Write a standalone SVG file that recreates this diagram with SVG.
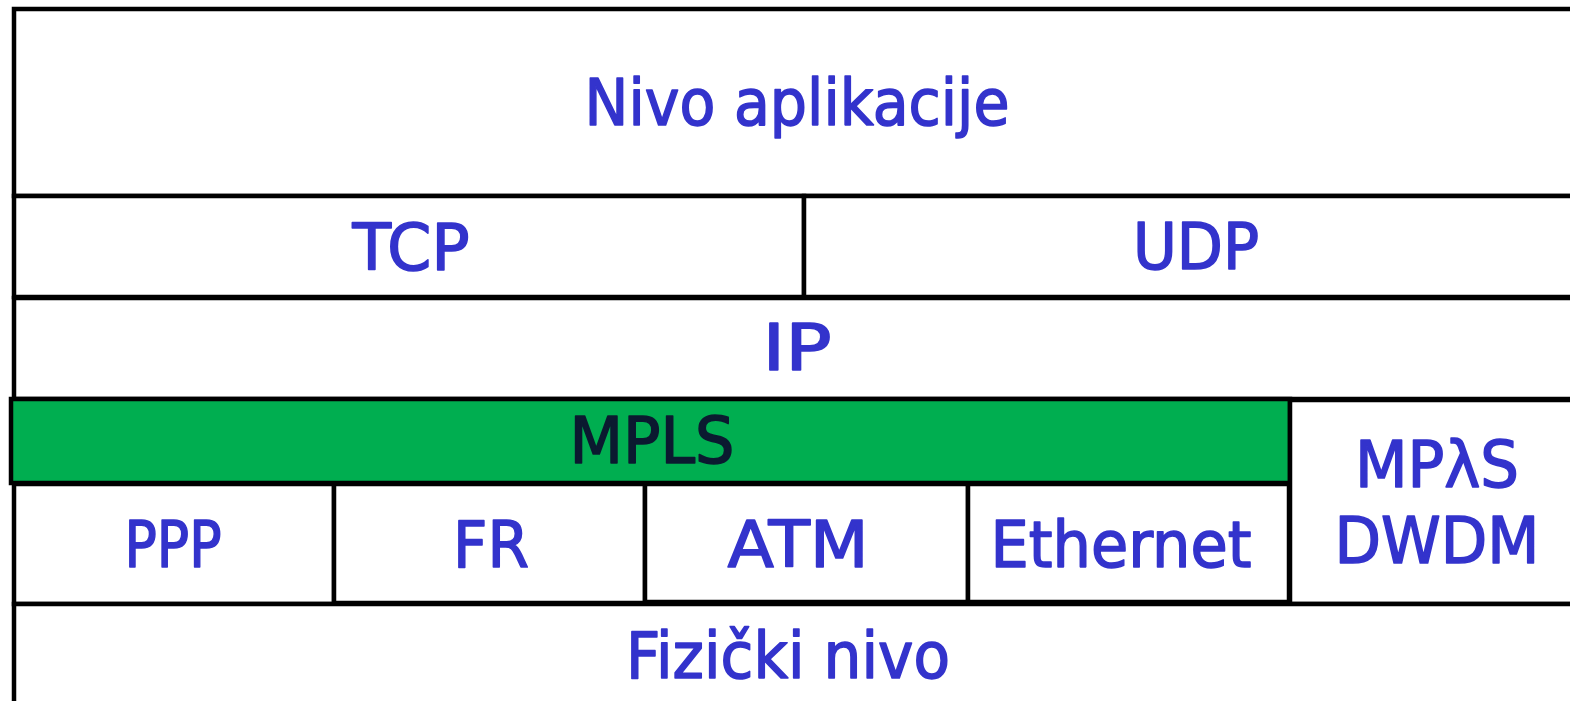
<svg xmlns="http://www.w3.org/2000/svg" width="1570" height="701" viewBox="0 0 1570 701">
<style>
.box{fill:#ffffff;stroke:#000000;stroke-width:4.5}
.green{fill:#00AE50;stroke:#000000;stroke-width:4.5}
.t{font-family:"DejaVu Sans","Liberation Sans",sans-serif;font-size:64px;fill:#3333CC;stroke:#3333CC;stroke-width:1.6;stroke-linejoin:round;text-anchor:middle}
.dark{fill:#0B1A30;stroke:#0B1A30}
</style>
<rect width="1570" height="701" fill="#ffffff"/>
<g id="app"><rect class="box" x="14" y="9" width="1570" height="187"/><text class="t" x="797" y="125" textLength="425" lengthAdjust="spacingAndGlyphs">Nivo aplikacije</text></g>
<g id="tcp"><rect class="box" x="14" y="196" width="790" height="101"/><text class="t" x="411" y="270" textLength="117" lengthAdjust="spacingAndGlyphs">TCP</text></g>
<g id="udp"><rect class="box" x="804" y="196" width="800" height="101"/><text class="t" x="1196" y="269" textLength="126" lengthAdjust="spacingAndGlyphs">UDP</text></g>
<g id="ip"><rect class="box" x="14" y="298" width="1570" height="101"/><text class="t" x="797" y="370" textLength="69" lengthAdjust="spacingAndGlyphs">IP</text></g>
<g id="mpls"><rect class="green" x="11" y="399" width="1279" height="84"/><text class="t dark" x="652" y="463" textLength="165" lengthAdjust="spacingAndGlyphs">MPLS</text></g>
<g id="ppp"><rect class="box" x="14" y="484" width="320" height="120"/><text class="t" x="173" y="567" textLength="97" lengthAdjust="spacingAndGlyphs">PPP</text></g>
<g id="fr"><rect class="box" x="334" y="484" width="311" height="119"/><text class="t" x="491" y="567" textLength="76" lengthAdjust="spacingAndGlyphs">FR</text></g>
<g id="atm"><rect class="box" x="645" y="484" width="323" height="118"/><text class="t" x="798" y="567" textLength="141" lengthAdjust="spacingAndGlyphs">ATM</text></g>
<g id="ethernet"><rect class="box" x="968" y="484" width="321" height="118"/><text class="t" x="1121" y="567" textLength="261" lengthAdjust="spacingAndGlyphs">Ethernet</text></g>
<g id="mplambdas"><rect class="box" x="1290" y="400" width="300" height="204"/><text class="t" x="1437" y="487" textLength="164" lengthAdjust="spacingAndGlyphs">MPλS</text><text class="t" x="1437" y="563" textLength="205" lengthAdjust="spacingAndGlyphs">DWDM</text></g>
<g id="fizicki"><rect class="box" x="14" y="604" width="1570" height="120"/><text class="t" x="788" y="678" textLength="324" lengthAdjust="spacingAndGlyphs">Fizički nivo</text></g>
<g id="connectors"></g>
</svg>
